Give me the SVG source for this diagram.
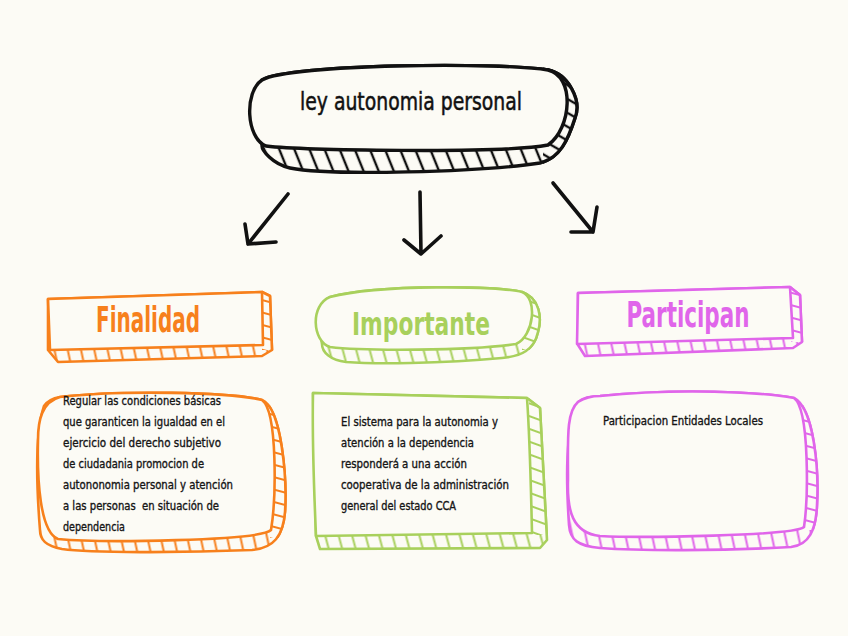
<svg xmlns="http://www.w3.org/2000/svg" width="848" height="636" viewBox="0 0 848 636">
<style>
.bg{fill:#fcfbf5}
.txt{font-family:"DejaVu Sans Condensed","Liberation Sans Narrow","DejaVu Sans",sans-serif;font-stretch:condensed}
.body{font-size:12.5px;fill:#151515;stroke:#151515;stroke-width:0.35}
.head{text-anchor:middle;font-weight:bold}
.arrow{fill:none;stroke:#111;stroke-width:3.6;stroke-linecap:round;stroke-linejoin:round}
.k{stroke:#111;stroke-width:3.4;stroke-linejoin:round}
.o{stroke:#f7801c;stroke-width:2.6;stroke-linejoin:round}
.g{stroke:#a8d05c;stroke-width:2.6;stroke-linejoin:round}
.m{stroke:#e065ea;stroke-width:2.6;stroke-linejoin:round}
.face{fill:#fcfbf5}
</style>
<defs>
<pattern id="vK" patternUnits="userSpaceOnUse" width="14" height="30" patternTransform="rotate(-22)"><rect width="14" height="30" fill="#fcfbf5"/><line x1="7" y1="0" x2="7" y2="30" stroke="#111" stroke-width="2.4"/></pattern>
<pattern id="hK" patternUnits="userSpaceOnUse" width="30" height="12" patternTransform="rotate(30)"><rect width="30" height="12" fill="#fcfbf5"/><line x1="0" y1="6" x2="30" y2="6" stroke="#111" stroke-width="2.4"/></pattern>
<pattern id="vO" patternUnits="userSpaceOnUse" width="13" height="30" patternTransform="rotate(-12)"><rect width="13" height="30" fill="#fcfbf5"/><line x1="6.5" y1="0" x2="6.5" y2="30" stroke="#f7801c" stroke-width="2"/></pattern>
<pattern id="hO" patternUnits="userSpaceOnUse" width="30" height="12" patternTransform="rotate(15)"><rect width="30" height="12" fill="#fcfbf5"/><line x1="0" y1="6" x2="30" y2="6" stroke="#f7801c" stroke-width="2"/></pattern>
<pattern id="vG" patternUnits="userSpaceOnUse" width="13" height="30" patternTransform="rotate(-15)"><rect width="13" height="30" fill="#fcfbf5"/><line x1="6.5" y1="0" x2="6.5" y2="30" stroke="#a8d05c" stroke-width="2"/></pattern>
<pattern id="hG" patternUnits="userSpaceOnUse" width="30" height="12" patternTransform="rotate(20)"><rect width="30" height="12" fill="#fcfbf5"/><line x1="0" y1="6" x2="30" y2="6" stroke="#a8d05c" stroke-width="2"/></pattern>
<pattern id="vM" patternUnits="userSpaceOnUse" width="13" height="30" patternTransform="rotate(-12)"><rect width="13" height="30" fill="#fcfbf5"/><line x1="6.5" y1="0" x2="6.5" y2="30" stroke="#e065ea" stroke-width="2"/></pattern>
<pattern id="hM" patternUnits="userSpaceOnUse" width="30" height="12" patternTransform="rotate(15)"><rect width="30" height="12" fill="#fcfbf5"/><line x1="0" y1="6" x2="30" y2="6" stroke="#e065ea" stroke-width="2"/></pattern>
<clipPath id="cMain"><rect x="543" y="0" width="60" height="200"/></clipPath>
<clipPath id="cFin"><rect x="262" y="280" width="20" height="70"/></clipPath>
<clipPath id="cImp"><rect x="522" y="280" width="30" height="70"/></clipPath>
<clipPath id="cPar"><rect x="791" y="280" width="20" height="62"/></clipPath>
<clipPath id="cFinB"><rect x="270" y="390" width="30" height="148"/></clipPath>
<clipPath id="cImpB"><rect x="529" y="390" width="30" height="145"/></clipPath>
<clipPath id="cParB"><rect x="803" y="390" width="30" height="140"/></clipPath>
</defs>
<rect class="bg" x="0" y="0" width="848" height="636"/>

<g id="node-main">
<path d="M262,80 C290,64 500,62 548,70 C568,74 582,100 575,118 C568,140 560,158 540,163 C480,172 330,176 290,168 C272,164 262,150 262,146 Z" fill="url(#vK)" class="k"/>
<path d="M262,80 C290,64 500,62 548,70 C568,74 582,100 575,118 C568,140 560,158 540,163 C480,172 330,176 290,168 C272,164 262,150 262,146 Z" fill="url(#hK)" clip-path="url(#cMain)" class="k"/>
<path class="face k" d="M262,80 C290,64 500,62 548,70 C575,76 572,128 548,145 C500,154 300,150 266,146 C246,138 244,92 262,80 Z"/>
<text class="txt" x="411" y="110" font-size="24" text-anchor="middle" fill="#111" stroke="#111" stroke-width="0.5" textLength="222" lengthAdjust="spacingAndGlyphs">ley autonomia personal</text>
</g>

<g id="connectors">
<path class="arrow" d="M288,194 L248,244 M245,224 L248,244 L276,242"/>
<path class="arrow" d="M420,192 L421,254 M404,240 L421,254 L441,236"/>
<path class="arrow" d="M553,183 L593,232 M571,232 L593,232 L597,207"/>
</g>

<g id="node-finalidad">
<path d="M48,299 L262,292 L270,296 L272,350 L262,356 L58,362 L48,350 Z" fill="url(#vO)" class="o"/>
<path d="M48,299 L262,292 L270,296 L272,350 L262,356 L58,362 L48,350 Z" fill="url(#hO)" clip-path="url(#cFin)" class="o"/>
<path class="face o" d="M48,299 L262,292 L263,345 L50,350 Z"/>
<text class="txt head" x="148" y="332" font-size="35" fill="#f7801c" textLength="104" lengthAdjust="spacingAndGlyphs">Finalidad</text>
</g>

<g id="node-importante">
<path d="M330,297 C380,284 500,286 522,292 C540,298 542,318 538,332 C534,350 522,356 502,358 C440,364 372,364 346,362 C330,360 322,352 322,344 C318,320 316,304 330,297 Z" fill="url(#vG)" class="g"/>
<path d="M330,297 C380,284 500,286 522,292 C540,298 542,318 538,332 C534,350 522,356 502,358 C440,364 372,364 346,362 C330,360 322,352 322,344 C318,320 316,304 330,297 Z" fill="url(#hG)" clip-path="url(#cImp)" class="g"/>
<path class="face g" d="M330,297 C380,284 500,286 522,292 C538,298 534,336 516,344 C470,351 362,351 330,347 C312,341 310,305 330,297 Z"/>
<text class="txt head" x="421" y="335" font-size="32" fill="#a8d05c" textLength="138" lengthAdjust="spacingAndGlyphs">Importante</text>
</g>

<g id="node-participan">
<path d="M578,293 L790,287 L800,295 L802,342 L793,348 L585,356 L578,345 Z" fill="url(#vM)" class="m"/>
<path d="M578,293 L790,287 L800,295 L802,342 L793,348 L585,356 L578,345 Z" fill="url(#hM)" clip-path="url(#cPar)" class="m"/>
<path class="face m" d="M578,293 L790,287 L793,338 L577,344 Z"/>
<text class="txt head" x="688" y="327" font-size="35" fill="#e065ea" textLength="123" lengthAdjust="spacingAndGlyphs">Participan</text>
</g>

<g id="node-finalidad-desc">
<path d="M60,397 C120,390 230,392 262,400 C282,408 287,480 285,512 C283,536 274,548 252,550 C180,553 90,553 62,549 C46,546 40,540 40,530 C36,480 36,430 44,406 C48,400 54,398 60,397 Z" fill="url(#vO)" class="o"/>
<path d="M60,397 C120,390 230,392 262,400 C282,408 287,480 285,512 C283,536 274,548 252,550 C180,553 90,553 62,549 C46,546 40,540 40,530 C36,480 36,430 44,406 C48,400 54,398 60,397 Z" fill="url(#hO)" clip-path="url(#cFinB)" class="o"/>
<path class="face o" d="M60,397 C120,390 230,392 262,400 C278,412 276,500 271,530 C260,541 100,543 58,539 C40,532 37,480 38,440 C38,420 42,402 60,397 Z"/>
<g class="txt body">
<text x="63" y="405" textLength="158" lengthAdjust="spacingAndGlyphs">Regular las condiciones básicas</text>
<text x="63" y="426" textLength="162" lengthAdjust="spacingAndGlyphs">que garanticen la igualdad en el</text>
<text x="63" y="447" textLength="158" lengthAdjust="spacingAndGlyphs">ejercicio del derecho subjetivo</text>
<text x="63" y="468" textLength="141" lengthAdjust="spacingAndGlyphs">de ciudadania promocion de</text>
<text x="63" y="489" textLength="170" lengthAdjust="spacingAndGlyphs">autononomia personal y atención</text>
<text x="63" y="510" textLength="156" lengthAdjust="spacingAndGlyphs" xml:space="preserve">a las personas  en situación de</text>
<text x="63" y="531" textLength="62" lengthAdjust="spacingAndGlyphs">dependencia</text>
</g>
</g>

<g id="node-importante-desc">
<path d="M313,393 L527,398 L540,408 L547,540 L540,548 L320,549 L316,536 Z" fill="url(#vG)" class="g"/>
<path d="M313,393 L527,398 L540,408 L547,540 L540,548 L320,549 L316,536 Z" fill="url(#hG)" clip-path="url(#cImpB)" class="g"/>
<path class="face g" d="M313,393 L527,398 C530,440 531,490 532,533 L316,536 C314,490 312,440 313,393 Z"/>
<g class="txt body">
<text x="341" y="426" textLength="157" lengthAdjust="spacingAndGlyphs">El sistema para la autonomia y</text>
<text x="341" y="447" textLength="133" lengthAdjust="spacingAndGlyphs">atención a la dependencia</text>
<text x="341" y="468" textLength="126" lengthAdjust="spacingAndGlyphs">responderá a una acción</text>
<text x="341" y="489" textLength="168" lengthAdjust="spacingAndGlyphs">cooperativa de la administración</text>
<text x="341" y="510" textLength="115" lengthAdjust="spacingAndGlyphs">general del estado CCA</text>
</g>
</g>

<g id="node-participan-desc">
<path d="M600,396 C680,388 760,392 794,398 C814,408 819,470 817,505 C816,530 809,545 791,547 C720,551 640,551 600,548 C578,546 570,540 569,525 C566,480 565,430 578,402 C584,397 592,396 600,396 Z" fill="url(#vM)" class="m"/>
<path d="M600,396 C680,388 760,392 794,398 C814,408 819,470 817,505 C816,530 809,545 791,547 C720,551 640,551 600,548 C578,546 570,540 569,525 C566,480 565,430 578,402 C584,397 592,396 600,396 Z" fill="url(#hM)" clip-path="url(#cParB)" class="m"/>
<path class="face m" d="M600,396 C680,388 760,392 794,398 C810,410 808,500 804,527 C794,536 640,538 600,536 C572,533 567,510 568,480 C568,440 566,412 578,402 C586,397 592,396 600,396 Z"/>
<text class="txt body" x="603" y="425" textLength="160" lengthAdjust="spacingAndGlyphs">Participacion Entidades Locales</text>
</g>
</svg>
